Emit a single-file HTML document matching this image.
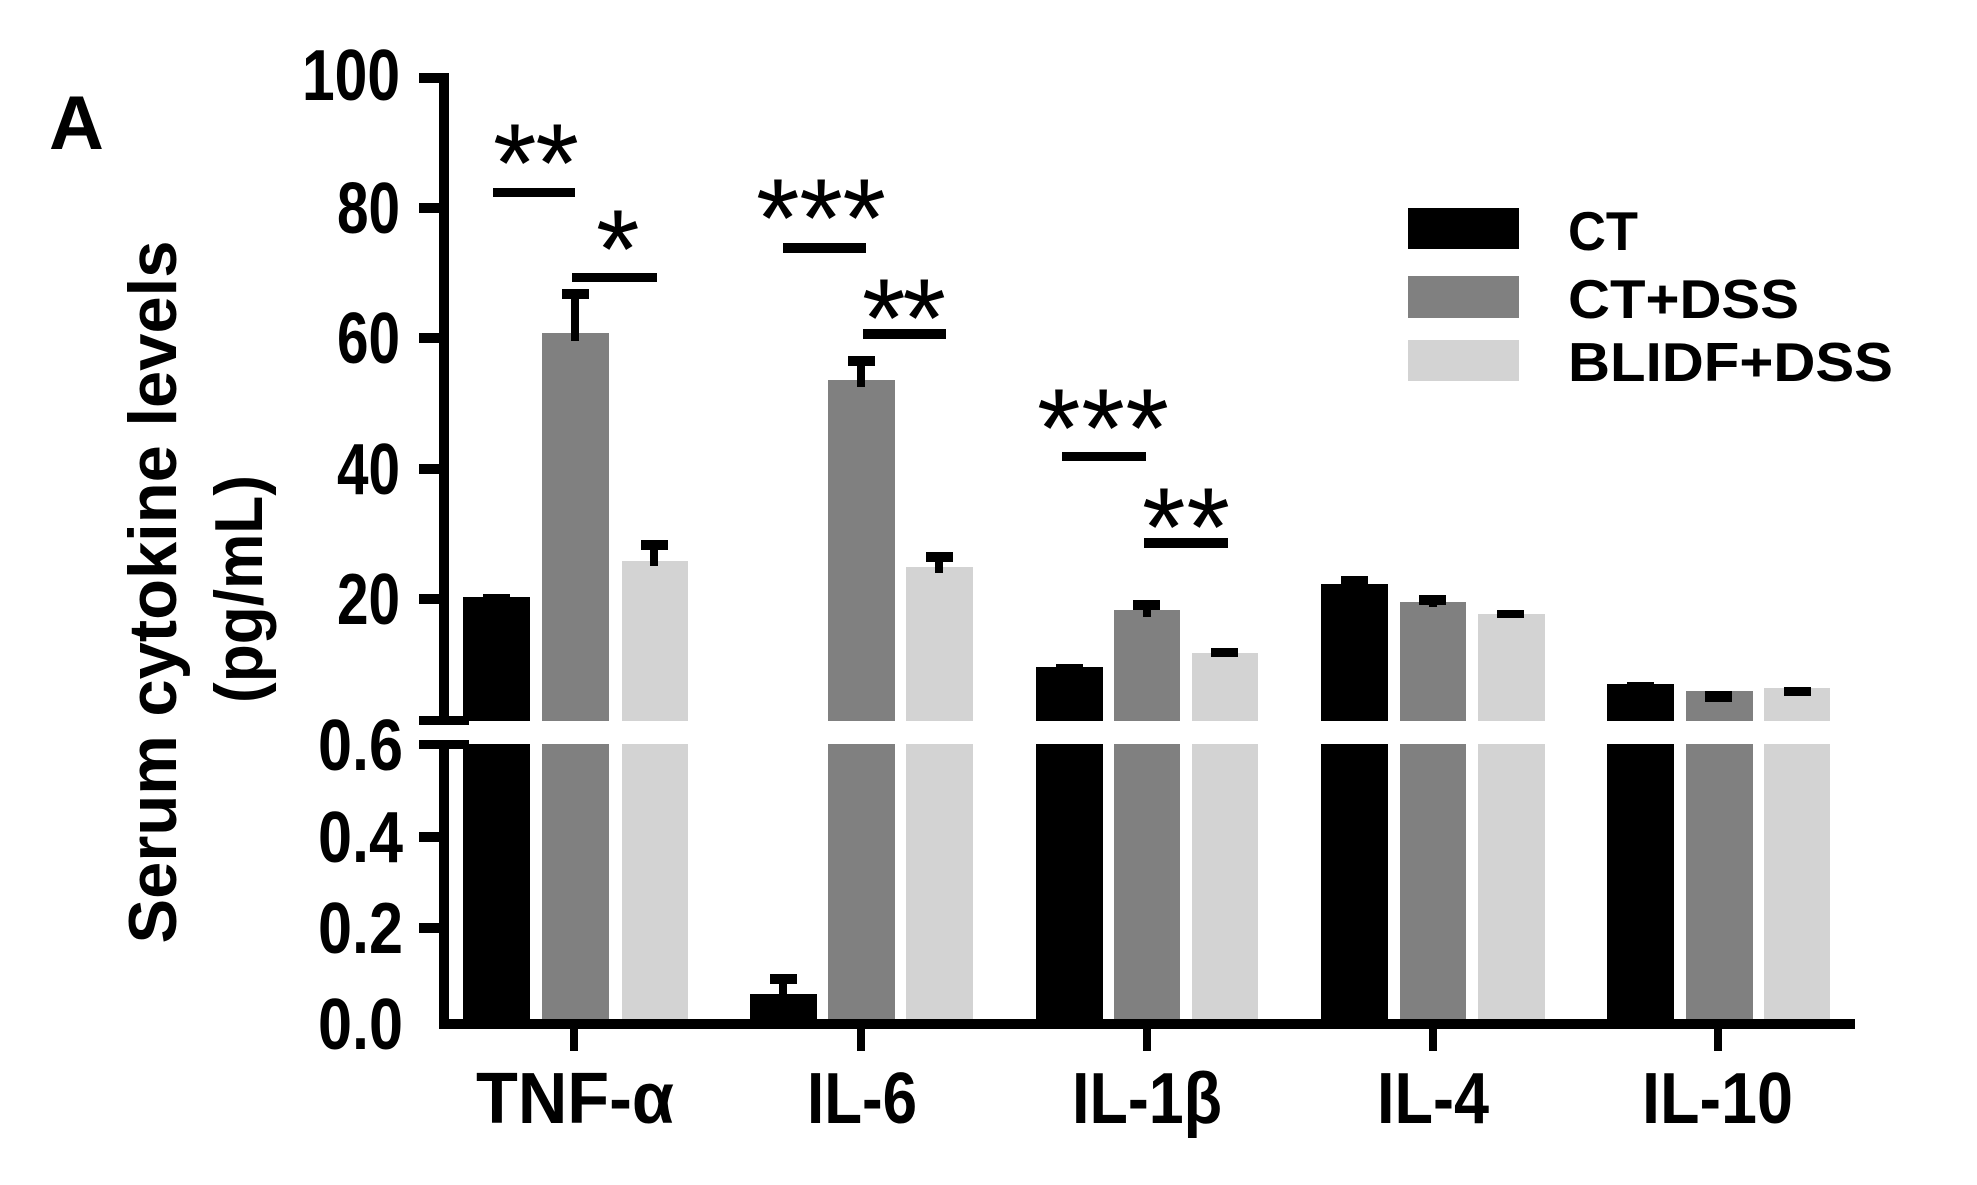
<!DOCTYPE html>
<html><head><meta charset="utf-8"><style>
html,body{margin:0;padding:0;background:#fff;}
svg{display:block;}
text{font-family:"Liberation Sans",sans-serif;font-weight:bold;fill:#000;}
.st{font-weight:normal;}
</style></head><body>
<svg width="1977" height="1185" viewBox="0 0 1977 1185" xmlns="http://www.w3.org/2000/svg">
<rect width="1977" height="1185" fill="#fff"/>
<text x="49" y="149" font-size="76">A</text>
<text transform="translate(176,592) rotate(-90)" text-anchor="middle" font-size="68" textLength="703" lengthAdjust="spacingAndGlyphs">Serum cytokine levels</text>
<text transform="translate(262,589) rotate(-90)" text-anchor="middle" font-size="68" textLength="228" lengthAdjust="spacingAndGlyphs">(pg/mL)</text>

<g>
<rect x="463" y="597" width="67" height="124" fill="#000"/>
<rect x="542" y="333" width="67" height="388" fill="#808080"/>
<rect x="622" y="561" width="66" height="160" fill="#d3d3d3"/>
<rect x="828" y="380" width="67" height="341" fill="#808080"/>
<rect x="906" y="567" width="67" height="154" fill="#d3d3d3"/>
<rect x="1036" y="667" width="67" height="54" fill="#000"/>
<rect x="1114" y="610" width="66" height="111" fill="#808080"/>
<rect x="1192" y="653" width="66" height="68" fill="#d3d3d3"/>
<rect x="1321" y="584" width="67" height="137" fill="#000"/>
<rect x="1400" y="602" width="66" height="119" fill="#808080"/>
<rect x="1478" y="614" width="67" height="107" fill="#d3d3d3"/>
<rect x="1607" y="684" width="67" height="37" fill="#000"/>
<rect x="1686" y="691" width="67" height="30" fill="#808080"/>
<rect x="1764" y="688" width="66" height="33" fill="#d3d3d3"/>
</g>
<g>
<rect x="463" y="744" width="67" height="276" fill="#000"/>
<rect x="542" y="744" width="67" height="276" fill="#808080"/>
<rect x="622" y="744" width="66" height="276" fill="#d3d3d3"/>
<rect x="750" y="994" width="67" height="26" fill="#000"/>
<rect x="828" y="744" width="67" height="276" fill="#808080"/>
<rect x="906" y="744" width="67" height="276" fill="#d3d3d3"/>
<rect x="1036" y="744" width="67" height="276" fill="#000"/>
<rect x="1114" y="744" width="66" height="276" fill="#808080"/>
<rect x="1192" y="744" width="66" height="276" fill="#d3d3d3"/>
<rect x="1321" y="744" width="67" height="276" fill="#000"/>
<rect x="1400" y="744" width="66" height="276" fill="#808080"/>
<rect x="1478" y="744" width="67" height="276" fill="#d3d3d3"/>
<rect x="1607" y="744" width="67" height="276" fill="#000"/>
<rect x="1686" y="744" width="67" height="276" fill="#808080"/>
<rect x="1764" y="744" width="66" height="276" fill="#d3d3d3"/>
</g>
<g fill="#000">
<rect x="483" y="594" width="27" height="6"/>
<rect x="562" y="289" width="27" height="10"/><rect x="571" y="289" width="8" height="52"/>
<rect x="641" y="540" width="27" height="10"/><rect x="650" y="540" width="8" height="26"/>
<rect x="848" y="356" width="27" height="10"/><rect x="857" y="356" width="8" height="31"/>
<rect x="926" y="552" width="27" height="10"/><rect x="935" y="552" width="8" height="21"/>
<rect x="770" y="974" width="27" height="10"/><rect x="779" y="974" width="8" height="22"/>
<rect x="1056" y="664" width="27" height="5"/>
<rect x="1133" y="600" width="27" height="10"/><rect x="1143" y="600" width="8" height="17"/>
<rect x="1211" y="648" width="27" height="9"/>
<rect x="1341" y="576" width="27" height="9"/>
<rect x="1419" y="595" width="27" height="10"/><rect x="1429" y="595" width="8" height="12"/>
<rect x="1497" y="610" width="27" height="8"/>
<rect x="1627" y="682" width="27" height="4"/>
<rect x="1705" y="691" width="27" height="11"/>
<rect x="1784" y="687" width="27" height="9"/>
</g>
<g fill="#000">
<rect x="439" y="73" width="10" height="648"/>
<rect x="439" y="740" width="10" height="289"/>
<rect x="439" y="1019" width="1416" height="10"/>
<rect x="419" y="73" width="25" height="10"/>
<rect x="419" y="203" width="25" height="10"/>
<rect x="419" y="333" width="25" height="10"/>
<rect x="419" y="464" width="25" height="10"/>
<rect x="419" y="594" width="25" height="10"/>
<rect x="419" y="716" width="50" height="9"/>
<rect x="419" y="740" width="50" height="9"/>
<rect x="419" y="832" width="25" height="10"/>
<rect x="419" y="923" width="25" height="10"/>
<rect x="570" y="1024" width="8" height="27"/>
<rect x="857" y="1024" width="8" height="27"/>
<rect x="1143" y="1024" width="8" height="27"/>
<rect x="1429" y="1024" width="8" height="27"/>
<rect x="1714" y="1024" width="8" height="27"/>
</g>
<g font-size="72">
<text x="302" y="100" textLength="98" lengthAdjust="spacingAndGlyphs">100</text>
<text x="337" y="233" textLength="63" lengthAdjust="spacingAndGlyphs">80</text>
<text x="337" y="363" textLength="63" lengthAdjust="spacingAndGlyphs">60</text>
<text x="337" y="494" textLength="63" lengthAdjust="spacingAndGlyphs">40</text>
<text x="337" y="624" textLength="63" lengthAdjust="spacingAndGlyphs">20</text>
<text x="318" y="770" textLength="85" lengthAdjust="spacingAndGlyphs">0.6</text>
<text x="318" y="862" textLength="85" lengthAdjust="spacingAndGlyphs">0.4</text>
<text x="318" y="953" textLength="85" lengthAdjust="spacingAndGlyphs">0.2</text>
<text x="318" y="1049" textLength="85" lengthAdjust="spacingAndGlyphs">0.0</text>
</g>
<g font-size="72">
<text x="476" y="1123" textLength="198" lengthAdjust="spacingAndGlyphs">TNF-α</text>
<text x="807" y="1123" textLength="110" lengthAdjust="spacingAndGlyphs">IL-6</text>
<text x="1072" y="1123" textLength="150" lengthAdjust="spacingAndGlyphs">IL-1β</text>
<text x="1377" y="1123" textLength="112" lengthAdjust="spacingAndGlyphs">IL-4</text>
<text x="1642" y="1123" textLength="151" lengthAdjust="spacingAndGlyphs">IL-10</text>
</g>
<g fill="#000">
<rect x="493" y="188" width="82" height="9"/>
<rect x="572" y="273" width="85" height="9"/>
<rect x="783" y="243" width="83" height="10"/>
<rect x="863" y="329" width="83" height="10"/>
<rect x="1062" y="452" width="84" height="9"/>
<rect x="1144" y="538" width="84" height="10"/>
</g>
<g font-size="112" class="st">
<text class="st" x="493" y="202" textLength="86" lengthAdjust="spacing">**</text>
<text class="st" x="596" y="288">*</text>
<text class="st" x="756" y="257" textLength="130" lengthAdjust="spacing">***</text>
<text class="st" x="862" y="357" textLength="84" lengthAdjust="spacing">**</text>
<text class="st" x="1037" y="467" textLength="132" lengthAdjust="spacing">***</text>
<text class="st" x="1142" y="566" textLength="88" lengthAdjust="spacing">**</text>
</g>
<rect x="1408" y="208" width="111" height="41" fill="#000"/>
<rect x="1408" y="276" width="111" height="42" fill="#808080"/>
<rect x="1408" y="340" width="111" height="41" fill="#d3d3d3"/>
<g font-size="55">
<text x="1568" y="250" textLength="70" lengthAdjust="spacingAndGlyphs">CT</text>
<text x="1568" y="318" textLength="231" lengthAdjust="spacingAndGlyphs">CT+DSS</text>
<text x="1568" y="381" textLength="325" lengthAdjust="spacingAndGlyphs">BLIDF+DSS</text>
</g>
</svg>
</body></html>
